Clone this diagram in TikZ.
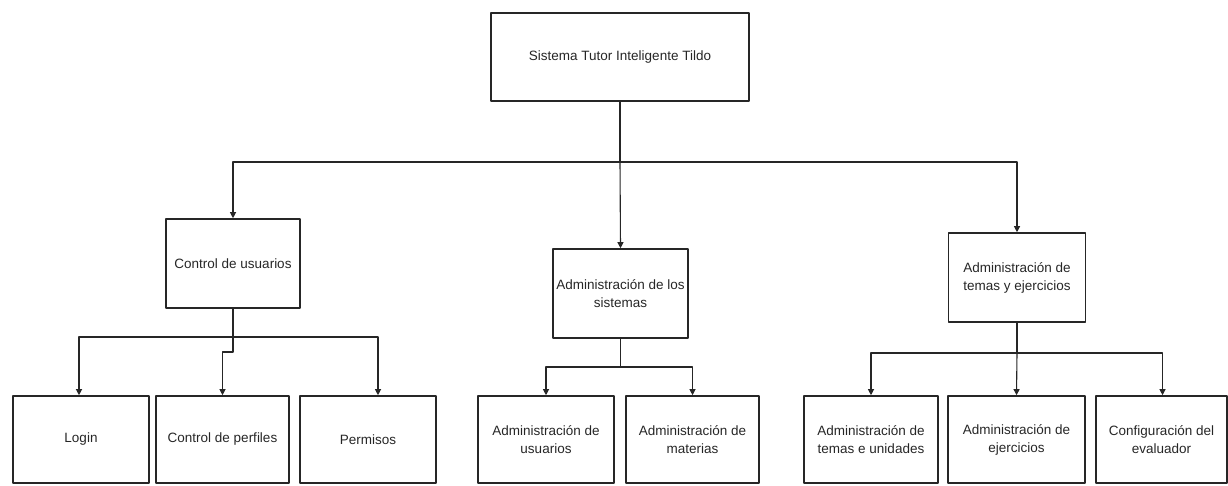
\documentclass[tikz,border=0pt]{standalone}
\usepackage{fontspec}
\setmainfont{Liberation Sans}
\usetikzlibrary{arrows.meta}
\begin{document}
\begin{tikzpicture}[x=1pt, y=-1pt, line join=round, >={Triangle[length=6pt,width=6pt]},
  font=\fontsize{13.5}{18}\selectfont,
  box/.style={draw=black!85, line width=1.6pt, align=center, inner sep=0pt, text=black!85},
  lin/.style={draw=black!85, line width=1.1pt},
  arr/.style={lin, ->}]
 \useasboundingbox (0,0) rectangle (1228,485);
 \node[box, minimum width=258, minimum height=88] (sis) at (620,57) {Sistema Tutor Inteligente Tildo};
 \node[box, minimum width=134, minimum height=89] (cu) at (233,263.5) {Control de usuarios};
 \node[box, minimum width=135, minimum height=89] (as) at (620.5,293.5) {Administración de los\\sistemas};
 \node[box, minimum width=137, minimum height=89] (at) at (1017,277.5) {Administración de\\temas y ejercicios};
 \node[box, minimum width=136, minimum height=87] (login) at (81,439.5) {Login};
 \node[box, minimum width=133, minimum height=87] (perf) at (222.5,439.5) {Control de perfiles};
 \node[box, minimum width=136, minimum height=87] (perm) at (368,439.5) {Permisos};
 \node[box, minimum width=136, minimum height=87] (ausu) at (546,439.5) {Administración de\\usuarios};
 \node[box, minimum width=133, minimum height=87] (amat) at (692.5,439.5) {Administración de\\materias};
 \node[box, minimum width=134, minimum height=87] (atem) at (871,439.5) {Administración de\\temas e unidades};
 \node[box, minimum width=137, minimum height=87] (aeje) at (1016.5,439.5) {Administración de\\ejercicios};
 \node[box, minimum width=131, minimum height=87] (conf) at (1161.5,439.5) {Configuración del\\evaluador};
 \draw[lin] (sis.south) -- (620,162) coordinate (t1);
 \draw[arr] (t1) -| (cu.north);
 \draw[arr] (t1) -| (at.north);
 \draw[arr] (t1) -- (as.north);
 \draw[lin] (cu.south) -- (233,337) coordinate (b1);
 \draw[arr] (b1) -| ([xshift=-2pt]login.north);
 \draw[arr] (b1) -| ([xshift=10pt]perm.north);
 \draw[arr] (b1) -- (233,352) -| (perf.north);
 \draw[lin] (as.south) -- (620.5,367) coordinate (m1);
 \draw[arr] (m1) -| (ausu.north);
 \draw[arr] (m1) -| (amat.north);
 \draw[lin] (at.south) -- (1017,353) coordinate (r1);
 \draw[arr] (r1) -| (atem.north);
 \draw[arr] (r1) -- (aeje.north);
 \draw[arr] (r1) -| ([xshift=1pt]conf.north);
\end{tikzpicture}
\end{document}
